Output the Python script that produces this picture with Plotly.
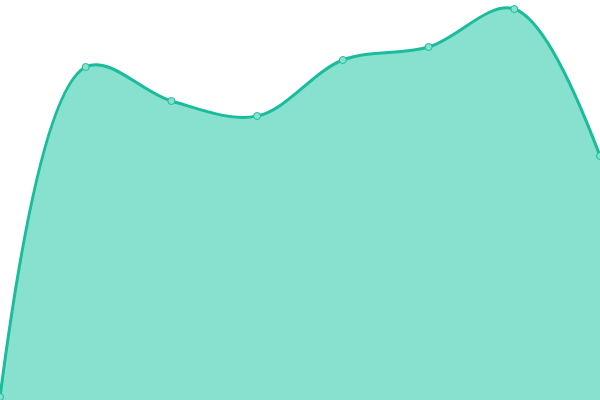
import plotly.graph_objects as go

# data
x_vals = [0, 1, 2, 3, 4, 5, 6, 7]
y_vals = [3, 333, 299, 284, 340, 353, 391, 244]

fig = go.Figure()
fig.add_scatter(
    x=x_vals, y=y_vals,
    mode="lines+markers",
    line=dict(color="#1abc9c", width=3, shape="spline", smoothing=1),
    fill="tozeroy", fillcolor="#88e0cf",
    marker=dict(size=7, color="#88e0cf", line=dict(color="#1abc9c", width=1)),
    hoverinfo="skip",
)

fig.update_layout(
    width=600, height=400,
    margin=dict(l=0, r=0, t=0, b=0),
    paper_bgcolor="white", plot_bgcolor="white",
    showlegend=False,
    xaxis=dict(visible=False, range=[0, 7]),
    yaxis=dict(visible=False, range=[0, 400]),
)

# drop the page's default body margin so the plot sits at 0,0
fig.write_html(
    "out.html",
    config={"displayModeBar": False},
    post_script="document.body.style.margin='0';document.body.style.overflow='hidden';",
)
